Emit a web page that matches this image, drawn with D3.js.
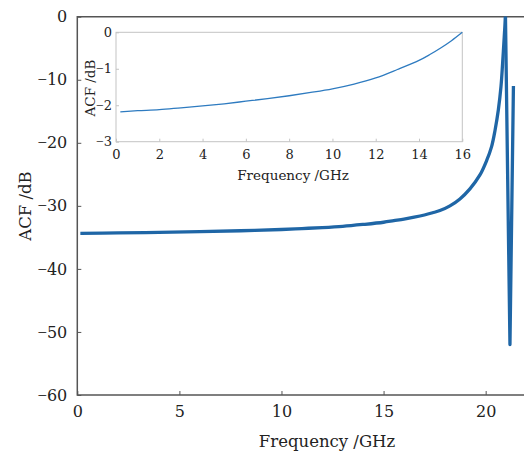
<!DOCTYPE html>
<html>
<head>
<meta charset="utf-8">
<script src="https://cdn.jsdelivr.net/npm/d3@7/dist/d3.min.js"></script>
<style>
  html, body { margin: 0; padding: 0; background: #fff; }
  svg { display: block; }
  text { font-family: "DejaVu Serif", serif; fill: #222; }
</style>
</head>
<body>
<svg id="chart" width="524" height="452"></svg>
<script>
// ---- Main chart data ----
const mainFreq = [0.15, 2, 4, 6, 8, 10, 11, 12, 13, 14, 15, 15.5, 16, 16.5, 17, 17.4, 17.76, 18.25, 18.74, 19.23, 19.72, 20.05, 20.29, 20.46, 20.62, 20.75, 20.83, 20.91, 20.97, 21.19, 21.36];
const mainACF  = [-34.35, -34.3, -34.2, -34.1, -33.95, -33.75, -33.6, -33.45, -33.25, -32.95, -32.6, -32.35, -32.1, -31.8, -31.45, -31.1, -30.75, -30.0, -28.9, -27.3, -25.1, -22.8, -20.6, -18.0, -14.8, -11.1, -7.4, -3.2, 0, -52, -11];
const mainXTicks = [0, 5, 10, 15, 20];
const mainYTicks = [0, -10, -20, -30, -40, -50, -60];

// ---- Inset data ----
const insetFreq = [0.2, 1, 2, 3, 4, 5, 6, 7, 8, 9, 10, 11, 12, 13, 14, 14.5, 15, 15.5, 16];
const insetACF  = [-2.18, -2.15, -2.12, -2.07, -2.02, -1.96, -1.89, -1.82, -1.74, -1.65, -1.55, -1.42, -1.25, -1.02, -0.77, -0.61, -0.43, -0.23, 0];
const insetXTicks = [0, 2, 4, 6, 8, 10, 12, 14, 16];
const insetYTicks = [0, -1, -2, -3];

const xLabel = "Frequency /GHz";
const yLabel = "ACF /dB";

const svg = d3.select("#chart");
const fmt = d => d3.format("")(d).replace("-", "\u2212");

// render minus sign with a narrower face, digits in the serif face
function styleTicks(sel, size) {
  sel.selectAll(".tick text").each(function() {
    const t = d3.select(this);
    const s = t.text();
    t.text(null).attr("font-size", size).attr("font-family", "DejaVu Serif").attr("fill", "#222");
    if (s.startsWith("\u2212")) {
      t.append("tspan").attr("font-family", "Liberation Serif").attr("font-size", size * 1.05).text("\u2212");
      t.append("tspan").text(s.slice(1));
    } else {
      t.append("tspan").text(s);
    }
  });
}

// ---------- Main axes ----------
const mx = d3.scaleLinear().domain([0, 22]).range([77.3, 526.5]);
const my = d3.scaleLinear().domain([-60, 0]).range([395, 16.7]);
const spine = "#555";

const gx = svg.append("g").attr("transform", `translate(0,${my(-60)})`)
  .call(d3.axisBottom(mx).tickValues(mainXTicks).tickSizeInner(-4).tickSizeOuter(0).tickPadding(11).tickFormat(fmt));
gx.select(".domain").remove();
gx.selectAll(".tick line").attr("stroke", spine).attr("stroke-width", 1);
styleTicks(gx, 16);

const gy = svg.append("g").attr("transform", `translate(${mx(0)},0)`)
  .call(d3.axisLeft(my).tickValues(mainYTicks).tickSizeInner(-4).tickSizeOuter(0).tickPadding(10).tickFormat(fmt));
gy.select(".domain").remove();
gy.selectAll(".tick line").attr("stroke", spine).attr("stroke-width", 1);
styleTicks(gy, 16);

// frame: left, bottom, top
svg.append("path")
  .attr("d", `M${mx(22)},${my(0)}H${mx(0)}V${my(-60)}H${mx(22)}`)
  .attr("fill", "none").attr("stroke", spine).attr("stroke-width", 1.5);

// main line: smooth rising branch up to the peak, straight segments after
const mainData = mainFreq.map((f, i) => [f, mainACF[i]]);
const peakIdx = mainACF.indexOf(d3.max(mainACF));
const lineStyle = p => p.attr("fill", "none").attr("stroke", "#1f66a6")
  .attr("stroke-width", 3.3).attr("stroke-linejoin", "round").attr("stroke-linecap", "butt");
svg.append("path").datum(mainData.slice(0, peakIdx + 1)).call(lineStyle)
  .attr("d", d3.line().curve(d3.curveCatmullRom.alpha(0.5)).x(d => mx(d[0])).y(d => my(d[1])));
svg.append("path").datum(mainData.slice(peakIdx)).call(lineStyle)
  .attr("d", d3.line().x(d => mx(d[0])).y(d => my(d[1])));

// axis labels
svg.append("text").attr("x", 327).attr("y", 447).attr("text-anchor", "middle")
  .attr("font-size", 16.5).text(xLabel);
svg.append("text").attr("transform", `translate(31,206) rotate(-90)`).attr("text-anchor", "middle")
  .attr("font-size", 16.5).text(yLabel);

// ---------- Inset ----------
const ix = d3.scaleLinear().domain([0, 16]).range([116, 462.3]);
const iy = d3.scaleLinear().domain([-3, 0]).range([141.7, 32.3]);
const light = "#c4c4c4";

svg.append("rect").attr("x", ix(0)).attr("y", iy(0)).attr("width", ix(16) - ix(0)).attr("height", iy(-3) - iy(0))
  .attr("fill", "#fff").attr("stroke", light).attr("stroke-width", 1);

const igx = svg.append("g").attr("transform", `translate(0,${iy(-3)})`)
  .call(d3.axisBottom(ix).tickValues(insetXTicks).tickSizeInner(-3).tickSizeOuter(0).tickPadding(8).tickFormat(fmt));
igx.select(".domain").remove();
igx.selectAll(".tick line").attr("stroke", light);
styleTicks(igx, 13);

const igy = svg.append("g").attr("transform", `translate(${ix(0)},0)`)
  .call(d3.axisLeft(iy).tickValues(insetYTicks).tickSizeInner(-3).tickSizeOuter(0).tickPadding(4).tickFormat(fmt));
igy.select(".domain").remove();
igy.selectAll(".tick line").attr("stroke", light);
styleTicks(igy, 13);

const insetData = insetFreq.map((f, i) => [f, insetACF[i]]);
svg.append("path")
  .datum(insetData)
  .attr("fill", "none")
  .attr("stroke", "#2e7bc0")
  .attr("stroke-width", 1.3)
  .attr("d", d3.line().curve(d3.curveCatmullRom.alpha(0.5)).x(d => ix(d[0])).y(d => iy(d[1])));

svg.append("text").attr("x", 293).attr("y", 180).attr("text-anchor", "middle")
  .attr("font-size", 13.5).text(xLabel);
svg.append("text").attr("transform", `translate(95,88) rotate(-90)`).attr("text-anchor", "middle")
  .attr("font-size", 13.5).text(yLabel);
</script>
</body>
</html>
